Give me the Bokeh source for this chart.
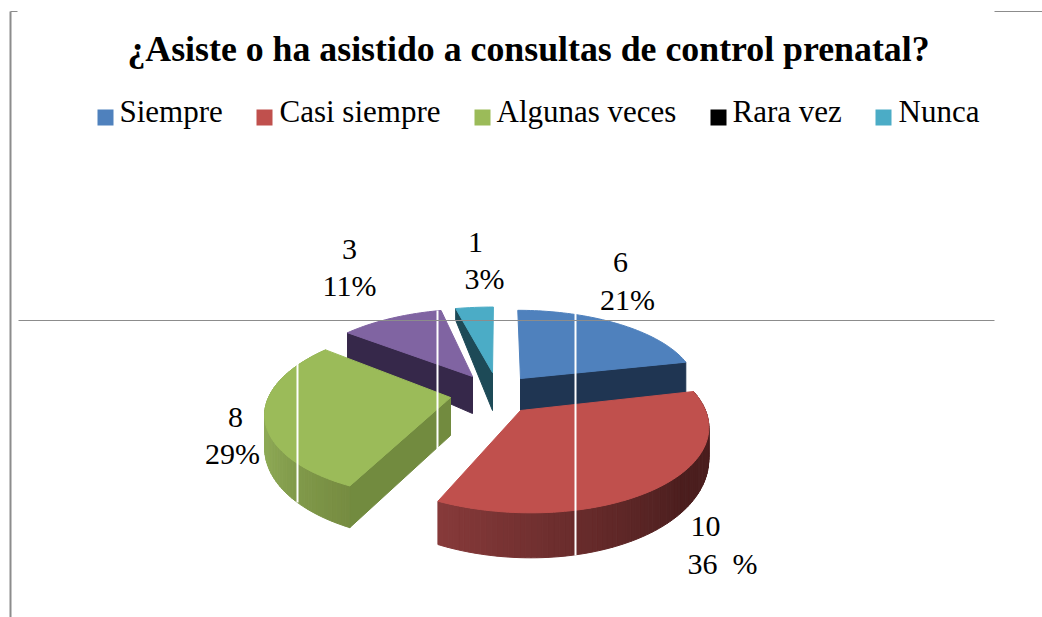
import math
from bokeh.embed import file_html
from bokeh.models import Range1d
from bokeh.plotting import figure
from bokeh.resources import INLINE
from bokeh.core.properties import value

# ---- data ----
TITLE = "¿Asiste o ha asistido a consultas de control prenatal?"
categories = ["Siempre", "Casi siempre", "Algunas veces", "Rara vez", "Nunca"]
counts = [6, 10, 8, 3, 1]
percent_labels = ["21%", "36\u00a0\u00a0%", "29%", "11%", "3%"]

# ---- styles ----
top_colors = ["#4F81BD", "#C0504D", "#9BBB59", "#8064A2", "#4BACC6"]
legend_colors = ["#4F81BD", "#C0504D", "#9BBB59", "#000000", "#4BACC6"]
flat_wall_colors = ["#1F3552", None, "#728B3F", "#36284A", "#1D4A57"]
GREY = "#8C8C8C"
SERIF = value("Liberation Serif")

# ---- layout: page pixel space, one perspective setup per exploded slice ----
geom = [
    dict(X0=520, Y0=378, A=174, B=75, S=-3, P=.10, da=32, db=0, dz=32, wall="end"),
    dict(X0=520, Y0=410, A=185, B=88, S=-9, P=.14, da=28, db=-17, dz=0, wall=None,
         rim=((206, (135, 58, 58)), (130, (75, 30, 30)))),
    dict(X0=450, Y0=397, A=182, B=84, S=8, P=.16, da=30, db=-13, dz=38, wall="start",
         rim=((206, (118, 140, 65)), (250, (142, 170, 86)))),
    dict(X0=472, Y0=376, A=174, B=75, S=4, P=.11, da=50, db=-38, dz=37, wall="start"),
    dict(X0=492, Y0=372, A=186, B=72, S=1, P=.10, da=38, db=-27, dz=38, wall="start"),
]
legend_box_x = [97, 256, 474, 710, 875]
legend_text_x = [119, 279, 496, 732, 898]
count_pos = [(620, 262), (705, 526), (235, 417), (349, 249), (475, 242)]
pct_pos = [(627, 299), (722, 563), (232, 453), (349, 285), (484, 278)]

W, H = 1042, 617
p = figure(width=W, height=H, x_range=Range1d(0, W), y_range=Range1d(H, 0),
           output_backend="svg", toolbar_location=None, min_border=0)
p.axis.visible = False
p.grid.visible = False
p.outline_line_color = None
p.background_fill_color = "white"


def project(g, deg):
    t = math.radians(deg)
    u, v = math.sin(t), math.cos(t)
    s = 1 / (1 + g["P"] * v)
    return g["X0"] + (g["A"] * u + g["S"] * v) * s, g["Y0"] - g["B"] * v * s, v


def rim_depth(g, v):
    return g["da"] + g["db"] * v


def lerp_color(stops, deg):
    (a0, c0), (a1, c1) = stops
    f = max(0.0, min(1.0, (deg - a0) / (a1 - a0)))
    return "#%02x%02x%02x" % tuple(round(c0[i] + (c1[i] - c0[i]) * f) for i in range(3))


total = sum(counts)
spans = []
acc = 0
for c in counts:
    spans.append((acc * 360 / total, (acc + c) * 360 / total))
    acc += c

for i in [4, 3, 0, 2, 1]:
    g = geom[i]
    a0, a1 = spans[i]
    n = max(4, int((a1 - a0) / 1.5))
    angles = [a0 + (a1 - a0) * k / n for k in range(n + 1)]
    if "rim" in g:
        xs, ys, fills = [], [], []
        for b0, b1 in zip(angles[:-1], angles[1:]):
            x0, y0, v0 = project(g, b0)
            x1, y1, v1 = project(g, b1)
            xs.append([x0, x1, x1, x0])
            ys.append([y0, y1, y1 + rim_depth(g, v1), y0 + rim_depth(g, v0)])
            fills.append(lerp_color(g["rim"], (b0 + b1) / 2))
        p.patches(xs, ys, fill_color=fills, line_color=fills, line_width=1)
    if g["wall"]:
        ex, ey, ev = project(g, a0 if g["wall"] == "start" else a1)
        p.patch([g["X0"], ex, ex, g["X0"]],
                [g["Y0"], ey, ey + rim_depth(g, ev), g["Y0"] + g["dz"]],
                fill_color=flat_wall_colors[i], line_color=flat_wall_colors[i], line_width=1)
    pts = [project(g, d) for d in angles]
    p.patch([g["X0"]] + [q[0] for q in pts], [g["Y0"]] + [q[1] for q in pts],
            fill_color=top_colors[i], line_color=top_colors[i], line_width=1)

p.segment([297, 437, 575], [360, 310, 312], [297, 437, 575], [502, 450, 555],
          line_color="white", line_width=2)
p.segment([18], [320], [994], [320], line_color=GREY, line_width=1)
p.segment([10, 10, 994], [11, 11, 11], [10, 17, 1042], [617, 11, 11],
          line_color=GREY, line_width=[2, 1, 1])

p.text([528], [48], text=[TITLE], text_font=SERIF, text_font_style="bold",
       text_font_size="35.8px", text_align="center", text_baseline="alphabetic", text_color="black")

p.rect([x + 8 for x in legend_box_x], [117] * 5, width=16, height=16,
       fill_color=legend_colors, line_color=None)
p.text(legend_text_x, [111] * 5, text=categories, text_font=SERIF, text_font_size="31px",
       text_align="left", text_baseline="alphabetic", text_color="black")

p.text([q[0] for q in count_pos], [q[1] for q in count_pos], text=[str(c) for c in counts],
       text_font=SERIF, text_font_size="30px", text_align="center", text_baseline="alphabetic",
       text_color="black")
p.text([q[0] for q in pct_pos], [q[1] for q in pct_pos], text=percent_labels,
       text_font=SERIF, text_font_size="30px", text_align="center", text_baseline="alphabetic",
       text_color="black")

open("out.html", "w").write(file_html(p, INLINE))
